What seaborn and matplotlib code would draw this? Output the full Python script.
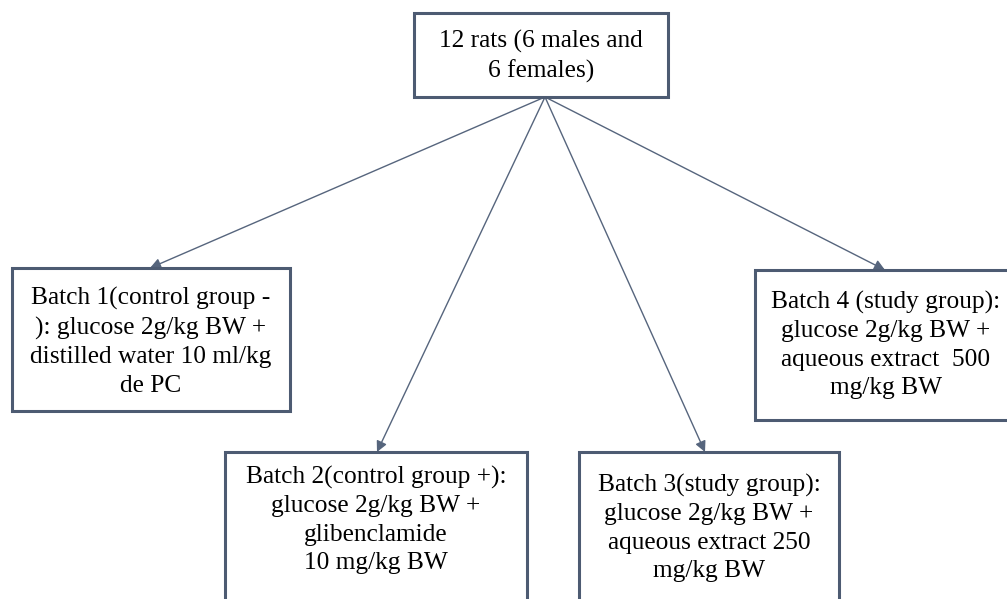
import matplotlib
matplotlib.use("Agg")
import matplotlib.pyplot as plt
import seaborn as sns
from matplotlib.patches import Rectangle

sns.set_theme(style="white")
plt.rcParams['font.family'] = ['Liberation Serif', 'DejaVu Serif']

# box texts
root_text = "12 rats (6 males and\n6 females)"
batch_texts = [
    "Batch 1(control group -\n): glucose 2g/kg BW +\ndistilled water 10 ml/kg\nde PC",
    "Batch 2(control group +):\nglucose 2g/kg BW +\nglibenclamide\n10 mg/kg BW",
    "Batch 3(study group):\nglucose 2g/kg BW +\naqueous extract 250\nmg/kg BW",
    "Batch 4 (study group):\nglucose 2g/kg BW +\naqueous extract  500\nmg/kg BW",
]

# layout (pixels): left, top, width, height
root_box = (414, 13, 254, 84)
batch_boxes = [
    (12, 268, 278, 143),
    (225, 452, 302, 160),
    (579, 452, 260, 160),
    (755, 270, 262, 150),
]
# text anchor y (centre of text block)
batch_text_y = [342, 520, 528, 345]
arrow_tips = [(150, 268), (377, 452), (705, 452), (885, 270)]
arrow_start = (545, 97)

edge = '#4d5b72'

fig = plt.figure(figsize=(10.07, 5.99), dpi=100)
ax = fig.add_axes([0, 0, 1, 1])
ax.set_xlim(0, 1007)
ax.set_ylim(599, 0)
ax.axis('off')

def box(b):
    x, y, w, h = b
    ax.add_patch(Rectangle((x, y), w, h, facecolor='white', edgecolor=edge, lw=2.2, zorder=2))

box(root_box)
ax.text(root_box[0] + root_box[2] / 2, 56, root_text, ha='center', va='center',
        fontsize=18.3, linespacing=1.37, color='black', zorder=3)

for b, t, ty in zip(batch_boxes, batch_texts, batch_text_y):
    box(b)
    ax.text(b[0] + b[2] / 2, ty, t, ha='center', va='center',
            fontsize=18.3, linespacing=1.37, color='black', zorder=3)

for tip in arrow_tips:
    ax.annotate('', xy=tip, xytext=arrow_start,
                arrowprops=dict(arrowstyle='-|>', color='#56657d', lw=1.0,
                                mutation_scale=16, shrinkA=0, shrinkB=0), zorder=1)

fig.savefig('out.png', dpi=100, facecolor='white')
